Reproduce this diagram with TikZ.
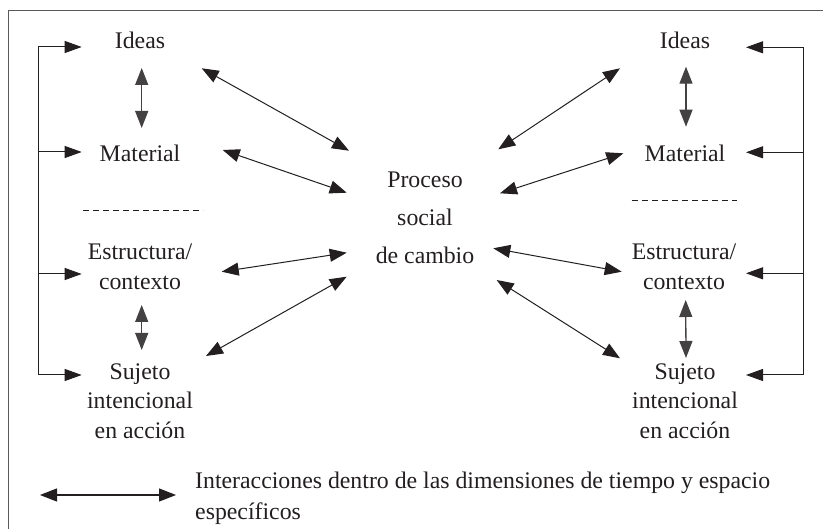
\documentclass[tikz,border=0pt]{standalone}
\usepackage{fontspec}
\setmainfont{Liberation Serif}
\usetikzlibrary{arrows.meta,calc}
\definecolor{ink}{HTML}{231F20}
\begin{document}
\begin{tikzpicture}[x=1pt,y=-1pt,
  lbl/.style={font=\fontsize{23.8}{29.5}\selectfont, align=center, inner sep=0pt, text=ink},
  dbl/.style={{Triangle[length=17pt,width=13pt]}-{Triangle[length=17pt,width=13pt]}, line width=1pt, ink},
  vdbl/.style={{Triangle[length=17pt,width=13pt]}-{Triangle[length=17pt,width=13pt]}, line width=1.3pt, ink!85},
  sgl/.style={-{Triangle[length=17pt,width=12pt]}, line width=1pt, ink},
  brk/.style={line width=1pt, ink},
  sepline/.style={line width=0.9pt, ink, dash pattern=on 6pt off 4pt},
  frameline/.style={line width=1.1pt, black!65}]
\useasboundingbox (0,0) rectangle (823,529);
% frame (only left and top edges visible)
\draw[frameline] (8.3,529) |- (823,10.7);

% left column
\node[lbl] (IL) at (140,40.5) {Ideas};
\node[lbl] (ML) at (140,153) {Material};
\node[lbl] (EL) at (140,267) {Estructura/\\contexto};
\node[lbl] (SL) at (140,401) {Sujeto\\intencional\\en acción};

% centre
\node[lbl, font=\fontsize{23.8}{38}\selectfont] (P) at (425,218) {Proceso\\social\\de cambio};

% right column
\node[lbl] (IR) at (685,40.5) {Ideas};
\node[lbl] (MR) at (685,153) {Material};
\node[lbl] (ER) at (684,267) {Estructura/\\contexto};
\node[lbl] (SR) at (685,401) {Sujeto\\intencional\\en acción};

% dashed separators
\draw[sepline] (83,210) -- (203,210);
\draw[sepline] (631.7,200.7) -- (736.7,200.7);

% vertical double arrows
\draw[vdbl] ($(IL)+(1.7,27.5)$) -- ($(ML)+(1.7,-25)$);
\draw[vdbl] ($(EL)+(1.7,38)$) -- ($(SL)+(1.7,-51)$);
\draw[vdbl] ($(IR)+(1,26.2)$) -- ($(MR)+(1,-26.3)$);
\draw[vdbl] ($(ER)+(1.7,33)$) -- ($(SR)+(1,-43)$);

% diagonal double arrows, left
\draw[dbl] ($(IL)+(61.7,27.8)$) -- ($(P)+(-76,-67.3)$);
\draw[dbl] ($(ML)+(82.7,-3)$) -- ($(P)+(-78.3,-25.3)$);
\draw[dbl] ($(EL)+(81.7,4.7)$) -- ($(P)+(-78.3,34.7)$);
\draw[dbl] ($(SL)+(66,-45)$) -- ($(P)+(-78.3,58.7)$);

% diagonal double arrows, right
\draw[dbl] ($(P)+(73.3,-68.7)$) -- ($(IR)+(-65,27.8)$);
\draw[dbl] ($(P)+(75,-24.7)$) -- ($(MR)+(-61.7,0.3)$);
\draw[dbl] ($(P)+(68.3,30.3)$) -- ($(ER)+(-62.3,4.7)$);
\draw[dbl] ($(P)+(71.7,62)$) -- ($(SR)+(-65,-42.7)$);

% left bracket
\coordinate (bL1) at (38.3,47);
\coordinate (bL2) at (38.3,152);
\coordinate (bL3) at (38.3,274);
\coordinate (bL4) at (38.3,375);
\draw[brk] (bL1) -- (bL4);
\foreach \c in {bL1,bL2,bL3,bL4} \draw[sgl] (\c) -- ++(43.4,0);

% right bracket
\coordinate (bR1) at (803.3,47.3);
\coordinate (bR2) at (803.3,152.3);
\coordinate (bR3) at (803.3,273.3);
\coordinate (bR4) at (803.3,375);
\draw[brk] (bR1) -- (bR4);
\foreach \c in {bR1,bR2,bR3,bR4} \draw[sgl] (\c) -- ++(-57.3,0);

% legend
\coordinate (lg1) at (40,495);
\coordinate (lg2) at (176,495);
\draw[dbl, line width=1.3pt] (lg1) -- (lg2);
\node[lbl, align=left, anchor=west, font=\fontsize{23.8}{31}\selectfont] (leg) at (195,498) {Interacciones dentro de las dimensiones de tiempo y espacio\\específicos};
\end{tikzpicture}
\end{document}
